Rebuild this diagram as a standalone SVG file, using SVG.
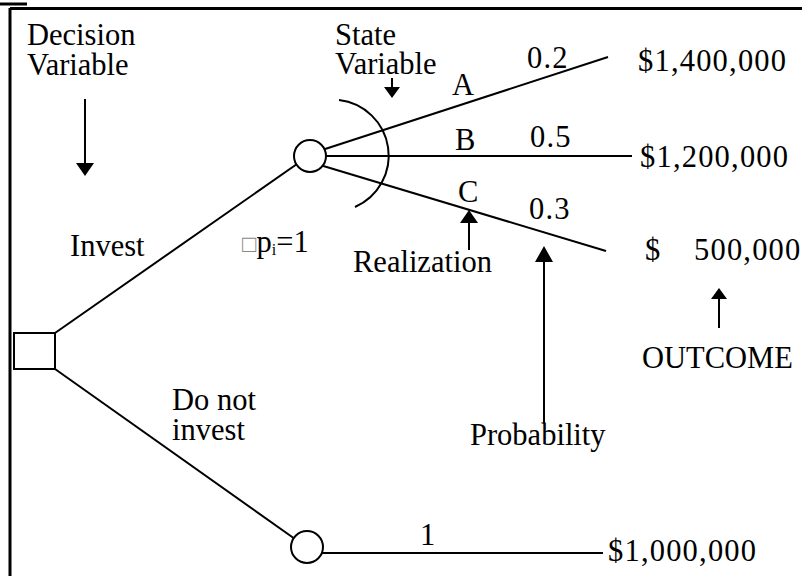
<svg xmlns="http://www.w3.org/2000/svg" width="802" height="576" viewBox="0 0 802 576">
<style>
text{font-family:"Liberation Serif","Times New Roman",serif;font-size:30.5px;fill:#000}
.num{letter-spacing:1.2px}
.ln{stroke:#000;stroke-width:2;fill:none}
.fr{stroke:#000;stroke-width:3;fill:none}
.nd{stroke:#000;stroke-width:2;fill:#fff}
</style>
<g id="frame">
<line class="fr" x1="0" y1="4" x2="27" y2="4"/>
<line class="fr" x1="10" y1="8.5" x2="802" y2="8.5"/>
<line class="fr" x1="10" y1="8" x2="10" y2="576"/>
</g>
<g id="connectors">
<line class="ln" x1="55" y1="333" x2="297" y2="164"/>
<line class="ln" x1="55" y1="369" x2="295" y2="539"/>
<line class="ln" x1="322" y1="150" x2="608" y2="57"/>
<line class="ln" x1="326" y1="156" x2="632" y2="156"/>
<line class="ln" x1="320" y1="165" x2="606" y2="251"/>
<line class="ln" x1="321" y1="553" x2="603" y2="553"/>
<path class="ln" d="M339,100 A56,56 0 0 1 355,207"/>
</g>
<g id="arrows">
<line class="ln" x1="85" y1="99" x2="85" y2="164"/>
<path d="M76,163 L94,163 L85,176 z" fill="#000"/>
<line class="ln" x1="392" y1="78" x2="392" y2="88"/>
<path d="M384,87 L400,87 L392,98 z" fill="#000"/>
<line class="ln" x1="469" y1="250" x2="469" y2="222"/>
<path d="M460,223 L478,223 L469,210 z" fill="#000"/>
<line class="ln" x1="544" y1="423" x2="544" y2="260"/>
<path d="M535,262 L553,262 L544,246 z" fill="#000"/>
<line class="ln" x1="719" y1="328" x2="719" y2="298"/>
<path d="M711,299 L727,299 L719,288 z" fill="#000"/>
</g>
<g id="decision-node">
<rect class="nd" x="14" y="333" width="41" height="36"/>
</g>
<g id="chance-node-invest">
<circle class="nd" cx="310" cy="156" r="16"/>
</g>
<g id="chance-node-noinvest">
<circle class="nd" cx="307" cy="547" r="16"/>
</g>
<g id="labels">
<text x="27" y="45">Decision</text>
<text x="27" y="75">Variable</text>
<text x="335" y="45">State</text>
<text x="335" y="74">Variable</text>
<text x="452" y="95">A</text>
<text class="num" x="527" y="68">0.2</text>
<text class="num" x="638" y="71">$1,400,000</text>
<text x="455" y="150">B</text>
<text class="num" x="530" y="147">0.5</text>
<text class="num" x="640" y="167">$1,200,000</text>
<text x="458" y="202">C</text>
<text class="num" x="529" y="219">0.3</text>
<text x="645" y="260">$</text>
<text class="num" x="694" y="260">500,000</text>
<text x="642" y="368">OUTCOME</text>
<text x="70" y="256">Invest</text>
<text x="242" y="252"><tspan fill="#888" font-size="24">□</tspan>p<tspan font-size="16" dy="3">i</tspan><tspan dy="-3">=1</tspan></text>
<text x="353" y="272">Realization</text>
<text x="470" y="445">Probability</text>
<text x="172" y="410">Do not</text>
<text x="172" y="440">invest</text>
<text class="num" x="420" y="545">1</text>
<text class="num" x="608" y="561">$1,000,000</text>
</g>
</svg>
